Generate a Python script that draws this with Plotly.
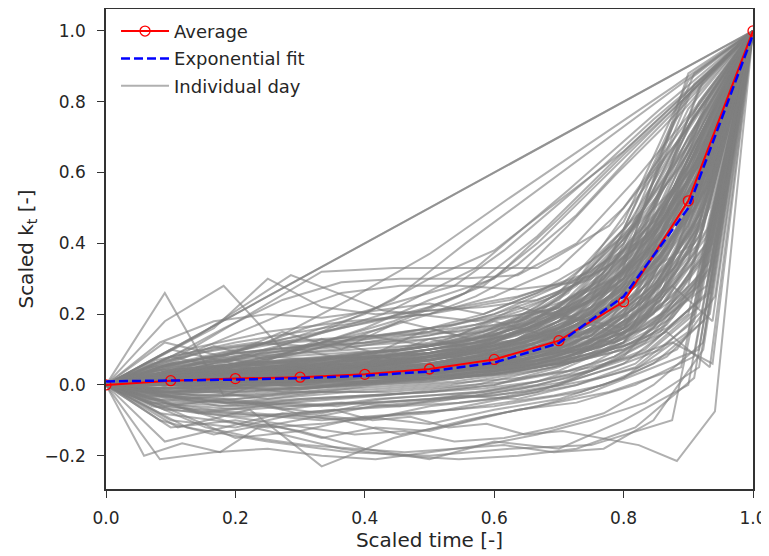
import numpy as np
import plotly.graph_objects as go

# Scaled time grid for the average and the fit
avg_time = [0.0, 0.1, 0.2, 0.3, 0.4, 0.5, 0.6, 0.7, 0.8, 0.9, 1.0]
avg_kt = [0.0, 0.012, 0.018, 0.022, 0.030, 0.045, 0.072, 0.125, 0.235, 0.52, 1.0]
fit_kt = [0.010, 0.012, 0.015, 0.019, 0.026, 0.038, 0.063, 0.118, 0.250, 0.50, 0.99]

# Individual days: scaled k_t per hourly step (scaled time spread evenly over the day)
day_values = [
    [0, 1],
    [0, 1],
    [0, 0.05, 0.12, 0.24, 0.37, 0.53, 0.685, 0.84, 1],
    [0, 0.04, 0.08, 0.15, 0.24, 0.40, 0.55, 0.70, 0.85, 1],
    [0, 0.03, 0.06, 0.10, 0.16, 0.24, 0.30, 0.47, 0.65, 0.82, 1],
    [0, 0.05, 0.08, 0.12, 0.15, 0.18, 0.22, 0.28, 0.40, 0.55, 0.70, 0.85, 1],
    [0, 0.05, 0.12, 0.20, 0.33, 0.55, 0.78, 1],
    [0, 0.03, 0.06, 0.08, 0.10, 0.13, 0.16, 0.20, 0.25, 0.32, 0.45, 0.59, 0.72, 0.86, 1],
    [0, 0.02, 0.05, 0.08, 0.12, 0.18, 0.25, 0.34, 0.48, 0.66, 0.83, 1],
    [0, 0.06, 0.10, 0.14, 0.20, 0.30, 0.38, 0.52, 0.66, 0.83, 1],
    [0, 0.03, 0.07, 0.11, 0.16, 0.20, 0.24, 0.28, 0.38, 0.50, 0.62, 0.75, 0.87, 1],
    [0, 0.02, 0.06, 0.12, 0.18, 0.26, 0.42, 0.62, 0.81, 1],
    [0, 0.26, -0.03, 0.02, 0.05, 0.04, 0.06, 0.10, 0.15, 0.28, 0.55, 1],
    [0, 0.18, 0.28, 0.10, 0.12, 0.14, 0.15, 0.18, 0.22, 0.30, 0.50, 1],
    [0, 0.14, 0.31, 0.21, 0.18, 0.22, 0.45, 1],
    [0, 0.08, 0.16, 0.30, 0.22, 0.20, 0.21, 0.22, 0.24, 0.30, 0.42, 0.62, 1],
    [0, 0.08, 0.20, 0.32, 0.33, 0.33, 0.33, 0.45, 0.70, 1],
    [0, 0.07, 0.16, 0.24, 0.29, 0.30, 0.30, 0.31, 0.40, 0.58, 0.78, 1],
    [0, 0.06, 0.13, 0.20, 0.26, 0.28, 0.28, 0.27, 0.29, 0.46, 0.72, 1],
    [0, 0.03, 0.05, 0.04, 0.06, 0.08, 0.10, 0.15, 0.28, 0.55, 1],
    [0, -0.02, 0.00, 0.01, 0.02, 0.03, 0.05, 0.10, 0.20, 0.45, 1],
    [0, 0.05, 0.08, 0.10, 0.12, 0.15, 0.20, 0.28, 0.42, 0.68, 1],
    [0, 0.01, 0.02, -0.01, 0.00, 0.02, 0.04, 0.06, 0.12, 0.30, 1],
    [0, -0.05, -0.06, -0.04, -0.03, -0.02, 0.00, 0.05, 0.12, 0.35, 1],
    [0, 0.08, 0.12, 0.15, 0.18, 0.20, 0.25, 0.33, 0.50, 0.75, 1],
    [0, 0.02, 0.01, 0.03, 0.05, 0.07, 0.12, 0.22, 0.40, 0.72, 1],
    [0, -0.10, -0.12, -0.08, -0.10, -0.06, -0.04, 0.00, 0.06, 0.20, 1],
    [0, 0.04, 0.06, 0.05, 0.03, 0.06, 0.09, 0.18, 0.35, 0.62, 1],
    [0, 0.00, 0.02, 0.03, 0.02, 0.04, 0.06, 0.09, 0.16, 0.38, 1],
    [0, 0.04, 0.03, 0.05, 0.08, 0.07, 0.10, 0.16, 0.30, 0.58, 1],
    [0, -0.03, -0.04, -0.02, 0.00, 0.01, 0.03, 0.07, 0.15, 0.40, 1],
    [0, 0.10, 0.06, 0.09, 0.14, 0.11, 0.18, 0.13, 0.24, 0.47, 1],
    [0, 0.02, 0.07, 0.03, 0.09, 0.05, 0.12, 0.20, 0.14, 0.36, 1],
    [0, 0.01, 0.02, 0.03, 0.03, 0.04, 0.05, 0.07, 0.10, 0.16, 0.35, 1],
    [0, -0.01, 0.00, -0.02, 0.00, 0.01, 0.02, 0.04, 0.07, 0.12, 0.26, 1],
    [0, 0.05, 0.09, 0.12, 0.16, 0.20, 0.22, 0.25, 0.30, 0.40, 0.62, 1],
    [0, 0.03, 0.01, 0.04, 0.06, 0.03, 0.08, 0.12, 0.09, 0.22, 0.45, 1],
    [0, 0.02, 0.03, 0.02, 0.04, 0.05, 0.06, 0.08, 0.12, 0.18, 0.30, 0.52, 1],
    [0, -0.03, -0.02, -0.04, -0.02, 0.00, 0.01, 0.03, 0.06, 0.12, 0.22, 0.45, 1],
    [0, 0.06, 0.10, 0.12, 0.13, 0.14, 0.16, 0.20, 0.26, 0.35, 0.50, 0.72, 1],
    [0, 0.00, 0.01, 0.02, 0.01, 0.03, 0.04, 0.06, 0.08, 0.14, 0.25, 0.40, 1],
    [0, -0.08, -0.10, -0.12, -0.11, -0.09, -0.08, -0.05, -0.02, 0.04, 0.12, 0.30, 1],
    [0, 0.03, 0.05, 0.08, 0.07, 0.09, 0.11, 0.15, 0.22, 0.33, 0.48, 0.70, 1],
    [0, 0.01, 0.01, 0.02, 0.03, 0.02, 0.04, 0.05, 0.07, 0.10, 0.16, 0.28, 1],
    [0, -0.05, -0.07, -0.06, -0.08, -0.05, -0.04, -0.02, 0.01, 0.06, 0.14, 0.30, 1],
    [0, 0.12, 0.18, 0.20, 0.19, 0.21, 0.23, 0.20, 0.26, 0.31, 0.40, 0.58, 1],
    [0, 0.02, 0.04, 0.03, 0.06, 0.05, 0.08, 0.11, 0.17, 0.26, 0.40, 0.62, 1],
    [0, 0.01, 0.02, 0.02, 0.03, 0.04, 0.05, 0.06, 0.08, 0.11, 0.17, 0.28, 0.48, 1],
    [0, -0.02, -0.03, -0.03, -0.02, -0.01, 0.00, 0.01, 0.03, 0.06, 0.10, 0.18, 0.32, 1],
    [0, 0.07, 0.10, 0.12, 0.11, 0.13, 0.15, 0.17, 0.20, 0.25, 0.33, 0.46, 0.66, 1],
    [0, 0.03, 0.02, 0.05, 0.04, 0.07, 0.06, 0.10, 0.08, 0.14, 0.20, 0.34, 0.55, 1],
    [0, 0.01, 0.02, 0.02, 0.03, 0.03, 0.04, 0.05, 0.07, 0.09, 0.13, 0.19, 0.30, 0.52, 1],
    [0, -0.02, -0.03, -0.02, -0.01, 0.00, 0.01, 0.02, 0.03, 0.05, 0.08, 0.13, 0.22, 0.40, 1],
    [0, 0.04, 0.06, 0.08, 0.09, 0.10, 0.12, 0.14, 0.17, 0.21, 0.27, 0.36, 0.50, 0.70, 1],
    [0, 0.00, -0.01, 0.00, 0.01, 0.02, 0.02, 0.03, 0.05, 0.06, 0.09, 0.12, 0.18, 0.28, 1],
    [0, 0.02, 0.05, 0.04, 0.06, 0.08, 0.07, 0.09, 0.12, 0.15, 0.21, 0.30, 0.45, 0.66, 1],
    [0, 0.00, 0.01, 0.01, 0.02, 0.02, 0.03, 0.04, 0.05, 0.07, 0.10, 0.15, 0.24, 0.42, 1],
    [0, -0.06, -0.08, -0.09, -0.08, -0.07, -0.06, -0.05, -0.03, -0.01, 0.02, 0.07, 0.14, 0.26, 1],
    [0, 0.02, 0.03, 0.04, 0.04, 0.05, 0.06, 0.08, 0.10, 0.13, 0.17, 0.24, 0.36, 0.58, 1],
    [0, 0.01, 0.01, 0.02, 0.02, 0.03, 0.04, 0.05, 0.06, 0.08, 0.10, 0.14, 0.20, 0.30, 0.50, 1],
    [0, -0.04, -0.05, -0.04, -0.03, -0.02, -0.02, -0.01, 0.00, 0.02, 0.04, 0.07, 0.12, 0.20, 0.35, 1],
    [0, 0.03, 0.04, 0.06, 0.07, 0.08, 0.09, 0.10, 0.12, 0.14, 0.18, 0.24, 0.32, 0.45, 0.65, 1],
    [0, 0.00, 0.00, 0.01, 0.01, 0.02, 0.02, 0.03, 0.04, 0.05, 0.06, 0.08, 0.11, 0.16, 0.26, 1],
    [0, 0.05, 0.07, 0.09, 0.10, 0.12, 0.13, 0.15, 0.17, 0.20, 0.24, 0.29, 0.36, 0.48, 0.68, 1],
    [0, -0.01, -0.02, -0.01, 0.00, 0.00, 0.01, 0.02, 0.02, 0.03, 0.05, 0.07, 0.10, 0.15, 0.05, 1],
    [0, 0.00, 0.01, 0.01, 0.02, 0.02, 0.03, 0.03, 0.04, 0.05, 0.07, 0.09, 0.12, 0.17, 0.25, 0.40, 1],
    [0, 0.02, 0.03, 0.04, 0.05, 0.05, 0.06, 0.07, 0.09, 0.11, 0.14, 0.18, 0.24, 0.33, 0.46, 0.65, 1],
    [0, 0.01, 0.02, 0.02, 0.03, 0.03, 0.04, 0.05, 0.06, 0.07, 0.09, 0.12, 0.15, 0.20, 0.28, 0.18, 1],
    [0, -0.03, -0.04, -0.05, -0.04, -0.03, -0.02, -0.02, -0.01, 0.00, 0.01, 0.03, 0.05, 0.08, 0.12, 0.06, 1],
    [0, 0.02, 0.04, 0.05, 0.07, 0.12, 0.22, 0.48, 1],
    [0, -0.04, -0.02, 0.00, 0.03, 0.06, 0.14, 0.35, 1],
    [0, 0.10, 0.15, 0.18, 0.20, 0.24, 0.32, 0.55, 1],
    [0, 0.03, 0.04, 0.06, 0.08, 0.12, 0.20, 0.36, 0.62, 1],
    [0, -0.02, 0.00, 0.01, 0.03, 0.05, 0.10, 0.22, 0.45, 1],
    [0, 0.03, 0.05, 0.08, 0.12, 0.22, 0.48, 1],
    [0, -0.08, -0.05, -0.03, 0.00, 0.06, 0.25, 1],
    [0, -0.20, -0.165, -0.19, -0.12, -0.10, -0.08, -0.06, -0.05, -0.04, -0.03, -0.02, 0.00, 0.02, 0.05, 0.10, 0.25, 1],
    [0, -0.02, -0.04, -0.06, -0.05, -0.08, -0.07, -0.10, -0.09, -0.12, -0.11, -0.14, -0.13, -0.15, -0.17, -0.215, -0.075, 1],
    [0, -0.21, -0.19, -0.18, -0.20, -0.21, -0.19, -0.17, -0.14, -0.10, -0.05, 0.05, 1],
    [0, -0.12, -0.07, -0.23, -0.15, -0.10, -0.06, -0.02, 0.05, 1],
    [0, -0.05, -0.10, -0.14, -0.18, -0.20, -0.21, -0.20, -0.18, -0.12, 0.02, 1],
    [0, -0.06, -0.12, -0.15, -0.17, -0.18, -0.19, -0.18, -0.17, -0.19, -0.18, -0.10, 0.10, 1],
    [0, -0.12, -0.16, -0.19, -0.20, -0.18, -0.17, -0.10, 1],
    [0, -0.07, -0.15, -0.13, -0.18, -0.21, -0.16, -0.18, -0.10, 0.00, 1],
    [0, -0.12, -0.10, -0.13, -0.09, -0.11, -0.07, -0.04, 0.02, 0.15, 1],
    [0, -0.10, -0.14, -0.11, -0.15, -0.12, -0.13, -0.09, -0.06, -0.02, 0.04, 0.10, 1],
    [0, -0.16, -0.12, -0.08, -0.10, -0.14, -0.11, -0.07, -0.05, 0.00, 0.08, 1],
    [0, -0.04, -0.08, -0.10, -0.12, -0.14, -0.13, -0.16, -0.15, -0.12, -0.08, 0.00, 0.12, 1],
    [0, 0.02, 0.03, 0.04, 0.05, 0.07, 0.10, 0.18, 0.38, 0.75, 1],
    [0, 0.01, 0.00, 0.02, 0.03, 0.05, 0.08, 0.14, 0.30, 0.66, 1],
    [0, -0.01, 0.01, 0.00, 0.02, 0.04, 0.06, 0.12, 0.26, 0.60, 1],
    [0, 0.03, 0.04, 0.06, 0.09, 0.12, 0.16, 0.24, 0.44, 0.82, 1],
    [0, 0.00, 0.01, 0.01, 0.02, 0.03, 0.05, 0.09, 0.20, 0.52, 1],
    [0, -0.02, -0.01, 0.00, 0.01, 0.02, 0.03, 0.06, 0.16, 0.48, 1],
    [0, 0.04, 0.07, 0.06, 0.08, 0.10, 0.14, 0.22, 0.36, 0.70, 1],
    [0, 0.01, 0.02, 0.04, 0.03, 0.05, 0.09, 0.16, 0.33, 0.88, 1],
    [0, 0.01, 0.02, 0.03, 0.04, 0.05, 0.07, 0.10, 0.17, 0.32, 0.64, 1],
    [0, 0.00, 0.01, 0.01, 0.02, 0.03, 0.04, 0.06, 0.12, 0.25, 0.58, 1],
    [0, 0.02, 0.04, 0.05, 0.06, 0.08, 0.10, 0.14, 0.22, 0.40, 0.76, 1],
    [0, -0.02, -0.02, -0.01, 0.00, 0.01, 0.02, 0.04, 0.08, 0.20, 0.50, 1],
    [0, 0.03, 0.05, 0.07, 0.08, 0.10, 0.12, 0.16, 0.26, 0.45, 0.85, 1],
    [0, 0.01, 0.02, 0.02, 0.03, 0.04, 0.05, 0.07, 0.10, 0.16, 0.28, 0.55, 1],
    [0, 0.00, 0.00, 0.01, 0.02, 0.02, 0.03, 0.05, 0.08, 0.13, 0.24, 0.48, 1],
    [0, 0.02, 0.03, 0.04, 0.05, 0.06, 0.08, 0.10, 0.14, 0.22, 0.38, 0.70, 1],
    [0, -0.01, -0.01, 0.00, 0.01, 0.01, 0.02, 0.04, 0.06, 0.10, 0.20, 0.42, 1],
    [0, 0.03, 0.05, 0.06, 0.07, 0.09, 0.11, 0.14, 0.19, 0.28, 0.45, 0.80, 1],
    [0, 0.01, 0.03, 0.02, 0.04, 0.06, 0.05, 0.08, 0.12, 0.19, 0.34, 0.64, 1],
    [0, 0.00, 0.01, 0.02, 0.02, 0.03, 0.04, 0.05, 0.07, 0.10, 0.15, 0.26, 0.50, 1],
    [0, 0.02, 0.03, 0.03, 0.04, 0.05, 0.06, 0.08, 0.10, 0.14, 0.21, 0.36, 0.68, 1],
    [0, -0.01, 0.00, 0.00, 0.01, 0.02, 0.02, 0.03, 0.05, 0.08, 0.12, 0.22, 0.44, 1],
    [0, 0.03, 0.04, 0.05, 0.06, 0.07, 0.09, 0.11, 0.14, 0.19, 0.28, 0.44, 0.78, 1],
    [0, 0.01, 0.01, 0.02, 0.02, 0.03, 0.03, 0.04, 0.05, 0.07, 0.10, 0.15, 0.25, 0.48, 1],
    [0, 0.02, 0.03, 0.03, 0.04, 0.05, 0.06, 0.07, 0.09, 0.12, 0.16, 0.23, 0.37, 0.66, 1],
    [0, -0.01, -0.01, 0.00, 0.00, 0.01, 0.01, 0.02, 0.03, 0.05, 0.08, 0.13, 0.22, 0.44, 1],
    [0, 0.03, 0.04, 0.05, 0.06, 0.07, 0.08, 0.10, 0.12, 0.15, 0.20, 0.28, 0.42, 0.74, 1],
    [0, 0.01, 0.01, 0.01, 0.02, 0.02, 0.03, 0.03, 0.04, 0.05, 0.07, 0.10, 0.15, 0.24, 0.45, 1],
    [0, 0.02, 0.03, 0.03, 0.04, 0.04, 0.05, 0.06, 0.07, 0.09, 0.12, 0.16, 0.23, 0.36, 0.62, 1],
    [0, 0.00, 0.00, 0.01, 0.01, 0.01, 0.02, 0.02, 0.03, 0.04, 0.06, 0.09, 0.13, 0.21, 0.38, 1],
    [0, 0.01, 0.01, 0.02, 0.02, 0.03, 0.03, 0.04, 0.04, 0.05, 0.06, 0.08, 0.11, 0.16, 0.24, 0.42, 1],
    [0, 0.02, 0.03, 0.04, 0.04, 0.05, 0.06, 0.07, 0.08, 0.09, 0.11, 0.14, 0.19, 0.27, 0.40, 0.66, 1],
    [0, 0.01, 0.02, 0.03, 0.05, 0.07, 0.12, 0.25, 0.58, 1],
    [0, 0.02, 0.04, 0.05, 0.07, 0.10, 0.16, 0.32, 0.70, 1],
    [0, -0.01, 0.00, 0.01, 0.02, 0.04, 0.08, 0.18, 0.48, 1],
    [0, 0.01, 0.02, 0.04, 0.06, 0.10, 0.20, 0.55, 1],
    [0, 0.03, 0.05, 0.07, 0.09, 0.14, 0.28, 0.66, 1],
    [0, -0.03, -0.05, -0.06, -0.05, -0.04, -0.03, 0.00, 0.08, 0.28, 1],
    [0, -0.04, -0.05, -0.05, -0.06, -0.04, -0.03, -0.02, 0.00, 0.04, 0.10, 0.24, 1],
    [0, -0.03, -0.04, -0.06, -0.05, -0.06, -0.04, -0.03, -0.02, 0.00, 0.03, 0.08, 0.16, 0.32, 1],
    [0, -0.06, -0.04, -0.07, -0.05, -0.06, -0.03, -0.04, 0.00, 0.05, 0.18, 1],
    [0, 0.06, 0.09, 0.11, 0.12, 0.14, 0.17, 0.22, 0.32, 0.58, 1],
    [0, 0.05, 0.08, 0.10, 0.11, 0.12, 0.13, 0.15, 0.18, 0.24, 0.34, 0.56, 1],
    [0, 0.04, 0.06, 0.08, 0.09, 0.10, 0.11, 0.12, 0.15, 0.19, 0.25, 0.38, 0.62, 1],
    [0, 0.06, 0.09, 0.11, 0.12, 0.13, 0.14, 0.15, 0.17, 0.20, 0.24, 0.30, 0.40, 0.60, 1],
    [0, 0.01, 0.03, 0.02, 0.04, 0.06, 0.09, 0.15, 0.32, 0.70, 1],
    [0, 0.00, -0.01, 0.01, 0.02, 0.03, 0.06, 0.11, 0.24, 0.56, 1],
    [0, 0.02, 0.02, 0.03, 0.05, 0.08, 0.12, 0.20, 0.40, 0.78, 1],
    [0, -0.01, -0.02, -0.01, 0.01, 0.02, 0.04, 0.08, 0.18, 0.50, 1],
    [0, 0.03, 0.05, 0.07, 0.08, 0.11, 0.15, 0.26, 0.46, 0.86, 1],
    [0, 0.01, 0.01, 0.02, 0.03, 0.04, 0.07, 0.13, 0.28, 0.64, 1],
    [0, 0.01, 0.01, 0.02, 0.03, 0.04, 0.06, 0.09, 0.15, 0.28, 0.60, 1],
    [0, 0.02, 0.03, 0.04, 0.05, 0.07, 0.09, 0.13, 0.20, 0.36, 0.72, 1],
    [0, -0.01, 0.00, 0.00, 0.01, 0.02, 0.03, 0.05, 0.10, 0.22, 0.52, 1],
    [0, 0.03, 0.05, 0.06, 0.08, 0.10, 0.13, 0.18, 0.28, 0.48, 0.88, 1],
    [0, 0.00, 0.01, 0.02, 0.02, 0.03, 0.05, 0.08, 0.13, 0.26, 0.66, 1],
    [0, 0.01, 0.01, 0.02, 0.02, 0.03, 0.04, 0.06, 0.09, 0.14, 0.26, 0.58, 1],
    [0, 0.02, 0.02, 0.03, 0.04, 0.05, 0.07, 0.09, 0.13, 0.20, 0.35, 0.74, 1],
    [0, -0.02, -0.01, -0.01, 0.00, 0.01, 0.02, 0.03, 0.05, 0.09, 0.18, 0.46, 1],
    [0, 0.03, 0.04, 0.05, 0.06, 0.08, 0.10, 0.12, 0.17, 0.25, 0.42, 0.84, 1],
    [0, 0.00, 0.01, 0.01, 0.02, 0.03, 0.03, 0.05, 0.07, 0.12, 0.22, 0.52, 1],
    [0, 0.01, 0.01, 0.02, 0.02, 0.03, 0.04, 0.05, 0.06, 0.09, 0.14, 0.24, 0.52, 1],
    [0, 0.02, 0.03, 0.04, 0.05, 0.06, 0.07, 0.08, 0.11, 0.15, 0.23, 0.40, 0.74, 1],
    [0, 0.00, 0.00, 0.01, 0.01, 0.02, 0.03, 0.04, 0.05, 0.07, 0.11, 0.20, 0.46, 1],
    [0, -0.02, -0.02, -0.01, -0.01, 0.00, 0.01, 0.02, 0.03, 0.05, 0.09, 0.16, 0.36, 1],
    [0, 0.04, 0.05, 0.06, 0.07, 0.09, 0.10, 0.12, 0.15, 0.20, 0.30, 0.50, 0.86, 1],
    [0, 0.01, 0.02, 0.02, 0.03, 0.03, 0.04, 0.05, 0.06, 0.08, 0.11, 0.17, 0.28, 0.56, 1],
    [0, 0.00, 0.00, 0.01, 0.01, 0.02, 0.02, 0.03, 0.04, 0.06, 0.08, 0.12, 0.20, 0.38, 1],
    [0, 0.02, 0.03, 0.04, 0.05, 0.06, 0.07, 0.08, 0.10, 0.13, 0.18, 0.26, 0.42, 0.80, 1],
    [0, -0.02, -0.03, -0.03, -0.02, -0.02, -0.01, 0.00, 0.01, 0.02, 0.04, 0.08, 0.15, 0.34, 1],
    [0, 0.01, 0.01, 0.02, 0.02, 0.02, 0.03, 0.04, 0.04, 0.06, 0.08, 0.11, 0.17, 0.28, 0.55, 1],
    [0, 0.00, 0.01, 0.01, 0.01, 0.02, 0.02, 0.03, 0.03, 0.04, 0.05, 0.07, 0.10, 0.17, 0.32, 1],
    [0, 0.02, 0.03, 0.04, 0.05, 0.06, 0.07, 0.08, 0.09, 0.11, 0.14, 0.19, 0.27, 0.42, 0.76, 1],
    [0, 0.00, 0.01, 0.01, 0.01, 0.02, 0.02, 0.03, 0.03, 0.04, 0.05, 0.06, 0.08, 0.12, 0.19, 0.34, 1],
    [0, 0.01, 0.02, 0.03, 0.03, 0.04, 0.05, 0.05, 0.06, 0.08, 0.10, 0.13, 0.17, 0.24, 0.36, 0.60, 1],
    [0, 0.00, 0.01, 0.02, 0.03, 0.05, 0.09, 0.20, 0.52, 1],
    [0, 0.02, 0.03, 0.04, 0.06, 0.09, 0.14, 0.28, 0.64, 1],
    [0, 0.01, 0.02, 0.03, 0.04, 0.06, 0.11, 0.22, 0.80, 1],
    [0, 0.00, 0.01, 0.02, 0.04, 0.07, 0.16, 0.46, 1],
    [0, 0.02, 0.03, 0.05, 0.07, 0.12, 0.24, 0.74, 1],
    [0, 0.01, 0.02, 0.04, 0.08, 0.18, 0.42, 1],
    [0, 0.02, 0.04, 0.06, 0.10, 0.26, 0.62, 1],
    [0, -0.04, -0.05, -0.04, -0.03, -0.02, 0.00, 0.04, 0.12, 0.44, 1],
    [0, -0.03, -0.04, -0.05, -0.04, -0.03, -0.02, -0.01, 0.01, 0.04, 0.09, 0.22, 1],
    [0, -0.05, -0.06, -0.07, -0.06, -0.05, -0.05, -0.04, -0.03, -0.01, 0.01, 0.05, 0.10, 0.22, 1],
    [0, -0.07, -0.08, -0.09, -0.07, -0.06, -0.05, -0.03, 0.00, 0.06, 0.20, 1],
    [0, -0.06, -0.07, -0.08, -0.09, -0.10, -0.08, -0.07, -0.05, -0.03, 0.00, 0.06, 0.18, 1],
    [0, -0.05, -0.07, -0.08, -0.09, -0.10, -0.09, -0.08, -0.07, -0.06, -0.04, -0.02, 0.02, 0.08, 0.20, 1],
    [0, 0.04, 0.06, 0.07, 0.08, 0.09, 0.12, 0.18, 0.30, 0.62, 1],
    [0, 0.04, 0.05, 0.06, 0.07, 0.08, 0.09, 0.11, 0.14, 0.20, 0.32, 0.60, 1],
    [0, 0.03, 0.05, 0.06, 0.07, 0.08, 0.08, 0.09, 0.11, 0.13, 0.17, 0.23, 0.34, 0.56, 1],
    [0, 0.05, 0.07, 0.08, 0.09, 0.10, 0.12, 0.15, 0.22, 0.34, 0.60, 1],
    [0, 0.05, 0.07, 0.09, 0.10, 0.11, 0.12, 0.14, 0.17, 0.22, 0.30, 0.44, 0.70, 1],
    [0, 0.08, 0.04, 0.10, 0.06, 0.13, 0.09, 0.20, 0.16, 0.42, 1],
    [0, 0.05, 0.11, 0.07, 0.13, 0.09, 0.16, 0.12, 0.21, 0.18, 0.30, 0.54, 1],
    [0, -0.02, 0.04, 0.00, 0.06, 0.02, 0.08, 0.04, 0.10, 0.07, 0.14, 0.12, 0.24, 0.40, 1],
    [0, 0.12, 0.08, 0.15, 0.10, 0.18, 0.14, 0.22, 0.18, 0.30, 0.40, 1],
]

font = "DejaVu Sans"
ink = "#262626"

fig = go.Figure()

for i, vals in enumerate(day_values):
    t = np.linspace(0, 1, len(vals))
    fig.add_trace(go.Scatter(
        x=t, y=vals, mode="lines",
        line=dict(color="rgba(128,128,128,0.62)", width=2),
        name="Individual day", legendgroup="days",
        showlegend=(i == 0), legendrank=3, hoverinfo="skip",
    ))

fig.add_trace(go.Scatter(
    x=avg_time, y=avg_kt, mode="lines+markers", name="Average",
    line=dict(color="#ff0000", width=2),
    marker=dict(symbol="circle-open", size=10, color="#ff0000", line=dict(width=1.3)),
    legendgroup="avg", legendrank=1,
))
fig.add_trace(go.Scatter(
    x=avg_time, y=fit_kt, mode="lines", name="Exponential fit",
    line=dict(color="#0000ff", width=2.5, dash="9px,4px"),
    legendgroup="fit", legendrank=2,
))

axis_common = dict(
    showgrid=False, zeroline=False, showline=True, mirror=True,
    linecolor="#333333", linewidth=1.5,
    ticks="outside", ticklen=7, tickwidth=1.3, tickcolor="#333333",
    tickfont=dict(family=font, size=17, color=ink),
    ticklabeloverflow="allow", automargin=False,
)

fig.update_xaxes(
    range=[0, 1], tickvals=[0, 0.2, 0.4, 0.6, 0.8, 1.0], tickformat=".1f",
    ticklabelstandoff=6,
    title=dict(text="Scaled time [-]", font=dict(family=font, size=20, color=ink), standoff=4),
    **axis_common,
)
fig.update_yaxes(
    range=[-0.294, 1.062], tickvals=[-0.2, 0, 0.2, 0.4, 0.6, 0.8, 1.0], tickformat=".1f",
    ticklabelstandoff=8,
    title=dict(text="Scaled k<sub>t</sub> [-]", font=dict(family=font, size=20, color=ink), standoff=6),
    **axis_common,
)

fig.update_layout(
    width=769, height=548,
    margin=dict(l=98, r=24, t=1, b=67),
    plot_bgcolor="white", paper_bgcolor="white",
    font=dict(family=font, size=17, color=ink),
    legend=dict(
        x=0.0155, y=0.992, xanchor="left", yanchor="top",
        bgcolor="rgba(255,255,255,0)", borderwidth=0,
        font=dict(family=font, size=18, color=ink),
        itemwidth=48, traceorder="grouped", tracegroupgap=1,
    ),
    showlegend=True,
)

fig.write_html("out.html")
